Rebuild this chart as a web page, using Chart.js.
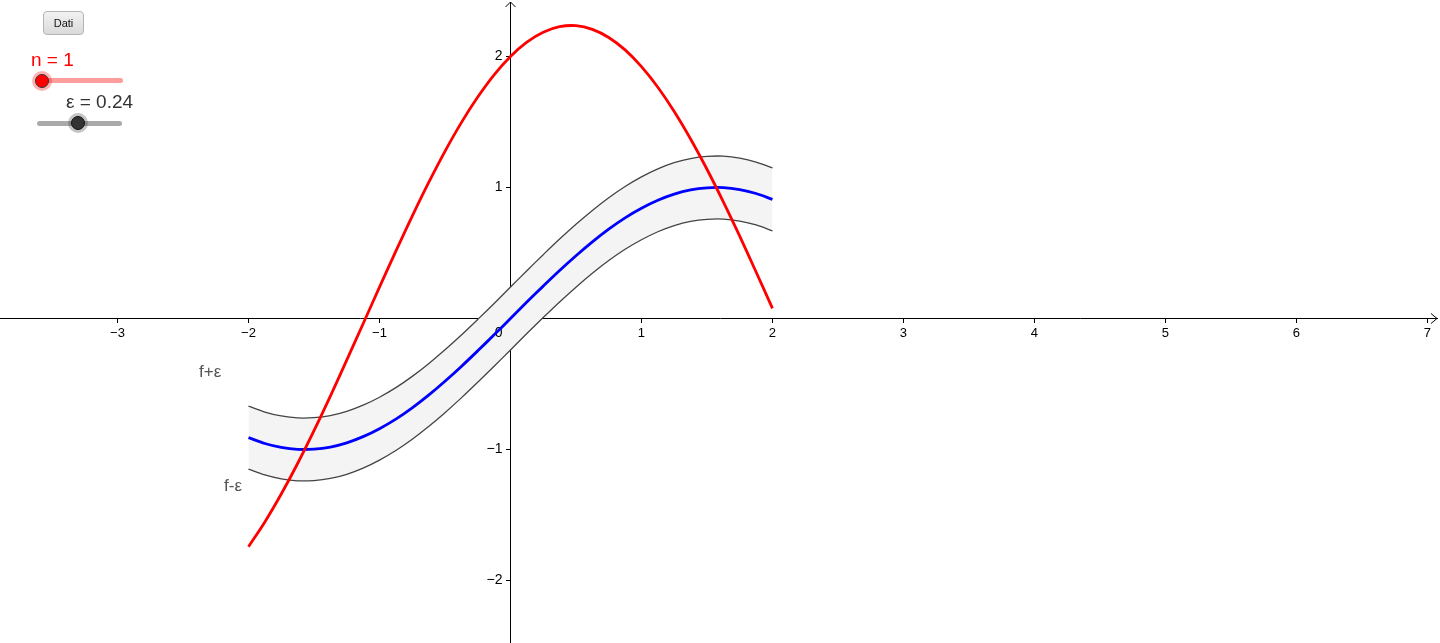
<!DOCTYPE html>
<html>
<head>
<meta charset="utf-8">
<title>f ± ε</title>
<script src="https://cdn.jsdelivr.net/npm/chart.js@4.4.1/dist/chart.umd.min.js"></script>
<style>
  html, body { margin: 0; padding: 0; background: #fff; }
  #wrap { position: relative; width: 1440px; height: 643px; overflow: hidden; font-family: 'Liberation Sans', Arial, sans-serif; }
  #c { position: absolute; left: 0; top: 0; }
  .btn {
    position: absolute; left: 43px; top: 11px; width: 39px; height: 22px;
    border: 1px solid #b4b4b4; border-radius: 4px;
    background: linear-gradient(#f2f2f2, #dadada);
    font-size: 11px; color: #111; text-align: center; line-height: 22px;
  }
  .lbl { position: absolute; white-space: nowrap; }
  .track { position: absolute; height: 5px; border-radius: 3px; }
  .knob { position: absolute; border-radius: 50%; box-sizing: border-box; }
</style>
</head>
<body>
<div id="wrap">
  <canvas id="c" width="1440" height="643"></canvas>
  <div class="btn">Dati</div>

  <div class="lbl" style="left:31px; top:49px; font-size:19px; color:#ff0000;">n = 1</div>
  <div class="track" style="left:40px; top:78px; width:83px; background:#ff9c9c;"></div>
  <div class="knob" style="left:32px; top:71px; width:20px; height:20px; background:rgba(255,0,0,0.3);"></div>
  <div class="knob" style="left:35px; top:74px; width:14px; height:14px; background:#ff0000; border:1px solid #333;"></div>

  <div class="lbl" style="left:66px; top:91px; font-size:19px; color:#333;">ε = 0.24</div>
  <div class="track" style="left:37px; top:121px; width:85px; background:#aaaaaa;"></div>
  <div class="knob" style="left:68px; top:113px; width:20px; height:20px; background:rgba(60,60,60,0.3);"></div>
  <div class="knob" style="left:71px; top:116px; width:14px; height:14px; background:#333; border:1px solid #111;"></div>

  <div class="lbl" style="left:199px; top:362px; font-size:17px; color:#555;">f+ε</div>
  <div class="lbl" style="left:224px; top:476px; font-size:17px; color:#555;">f-ε</div>
</div>

<script>
// sample abscissas, step 0.125 on [-2, 2]
const xs = [-2, -1.875, -1.75, -1.625, -1.5, -1.375, -1.25, -1.125, -1, -0.875, -0.75, -0.625, -0.5, -0.375, -0.25, -0.125,
  0, 0.125, 0.25, 0.375, 0.5, 0.625, 0.75, 0.875, 1, 1.125, 1.25, 1.375, 1.5, 1.625, 1.75, 1.875, 2];

// f (blue)
const fVals = [-0.909, -0.954, -0.984, -0.999, -0.997, -0.981, -0.949, -0.902, -0.841, -0.768, -0.682, -0.585, -0.479, -0.366, -0.247, -0.125,
  0, 0.125, 0.247, 0.366, 0.479, 0.585, 0.682, 0.768, 0.841, 0.902, 0.949, 0.981, 0.997, 0.999, 0.984, 0.954, 0.909];
// band edges f + ε and f - ε
const upperVals = [-0.669, -0.714, -0.744, -0.759, -0.757, -0.741, -0.709, -0.662, -0.601, -0.528, -0.442, -0.345, -0.239, -0.126, -0.007, 0.115,
  0.240, 0.365, 0.487, 0.606, 0.719, 0.825, 0.922, 1.008, 1.081, 1.142, 1.189, 1.221, 1.237, 1.239, 1.224, 1.194, 1.149];
const lowerVals = [-1.149, -1.194, -1.224, -1.239, -1.237, -1.221, -1.189, -1.142, -1.081, -1.008, -0.922, -0.825, -0.719, -0.606, -0.487, -0.365,
  -0.240, -0.115, 0.007, 0.126, 0.239, 0.345, 0.442, 0.528, 0.601, 0.662, 0.709, 0.741, 0.757, 0.759, 0.744, 0.714, 0.669];
// approximating curve (red), n = 1
const redVals = [-1.742, -1.553, -1.340, -1.107, -0.856, -0.592, -0.318, -0.040, 0.239, 0.514, 0.782, 1.037, 1.276, 1.495, 1.690, 1.860,
  2.000, 2.109, 2.185, 2.227, 2.235, 2.207, 2.145, 2.050, 1.922, 1.765, 1.580, 1.370, 1.139, 0.890, 0.628, 0.355, 0.077];

// visible window
const xMin = -3.897, xMax = 7.096;
const yMin = -2.477, yMax = 2.431;
const tickStep = 1;

const pts = (vals) => xs.map((x, i) => ({ x: x, y: vals[i] }));
const minus = (v) => (v < 0 ? '\u2212' + Math.abs(v) : String(v));
const FONT = '"Liberation Sans", Arial, sans-serif';

const axisExtras = {
  id: 'axisExtras',
  // origin label and y labels sit above the band but under the curves
  beforeDatasetDraw(chart, args) {
    if (args.index !== 1) return;
    const { ctx, scales } = chart;
    const x0 = scales.x.getPixelForValue(0);
    const y0 = scales.y.getPixelForValue(0);
    ctx.save();
    ctx.fillStyle = '#000';
    ctx.font = '14px ' + FONT;
    ctx.textAlign = 'right';
    ctx.textBaseline = 'alphabetic';
    ctx.fillText('0', x0 - 8, y0 + 19);
    ctx.textBaseline = 'middle';
    scales.y.ticks.forEach((t) => {
      if (t.value === 0) return;
      ctx.fillText(minus(t.value), x0 - 8, scales.y.getPixelForValue(t.value));
    });
    ctx.restore();
  },
  afterDraw(chart) {
    const { ctx, scales, chartArea } = chart;
    const x0 = Math.round(scales.x.getPixelForValue(0)) + 0.5;
    const y0 = Math.round(scales.y.getPixelForValue(0)) + 0.5;
    ctx.save();
    ctx.strokeStyle = '#000';
    ctx.lineWidth = 1;
    const xe = chartArea.right - 3;
    const ye = chartArea.top + 2;
    // white out axis past the arrow tips
    ctx.fillStyle = '#fff';
    ctx.fillRect(xe + 1, y0 - 2, chartArea.right - xe, 4);
    ctx.fillRect(x0 - 2, chartArea.top, 4, ye - chartArea.top);
    // x arrow
    ctx.beginPath();
    ctx.moveTo(xe - 6, y0 - 5);
    ctx.lineTo(xe, y0);
    ctx.lineTo(xe - 6, y0 + 5);
    ctx.stroke();
    // y arrow
    ctx.beginPath();
    ctx.moveTo(x0 - 5, ye + 5);
    ctx.lineTo(x0, ye);
    ctx.lineTo(x0 + 5, ye + 5);
    ctx.stroke();
    ctx.restore();
  },
};

const curve = { pointRadius: 0, tension: 0.33 };

new Chart(document.getElementById('c'), {
  type: 'line',
  data: {
    datasets: [
      {
        ...curve,
        label: 'g',
        data: pts(redVals),
        borderColor: '#ff0000',
        borderWidth: 2.8,
        fill: false,
        order: 0,
      },
      {
        ...curve,
        label: 'f',
        data: pts(fVals),
        borderColor: '#0000ff',
        borderWidth: 2.8,
        fill: false,
        order: 1,
      },
      {
        ...curve,
        label: 'f+ε',
        data: pts(upperVals),
        borderColor: '#444444',
        borderWidth: 1.3,
        backgroundColor: '#f4f4f4',
        fill: '+1',
        order: 3,
      },
      {
        ...curve,
        label: 'f-ε',
        data: pts(lowerVals),
        borderColor: '#444444',
        borderWidth: 1.3,
        fill: false,
        order: 2,
      },
    ],
  },
  options: {
    responsive: false,
    animation: false,
    layout: { padding: 0 },
    plugins: {
      legend: { display: false },
      tooltip: { enabled: false },
    },
    scales: {
      x: {
        type: 'linear',
        min: xMin,
        max: xMax,
        position: { y: 0 },
        grid: { drawOnChartArea: false, drawTicks: true, tickLength: 4, color: '#000' },
        border: { color: '#000', width: 1 },
        ticks: {
          stepSize: tickStep,
          includeBounds: false,
          autoSkip: false,
          maxRotation: 0,
          padding: 3,
          color: '#000',
          font: { family: FONT, size: 13 },
          callback: (v) => (v === 0 ? '' : minus(v)),
        },
      },
      y: {
        type: 'linear',
        min: yMin,
        max: yMax,
        position: { x: 0 },
        grid: { drawOnChartArea: false, drawTicks: true, tickLength: 4, color: '#000' },
        border: { color: '#000', width: 1 },
        ticks: {
          stepSize: tickStep,
          includeBounds: false,
          display: false,
        },
      },
    },
  },
  plugins: [axisExtras],
});
</script>
</body>
</html>
